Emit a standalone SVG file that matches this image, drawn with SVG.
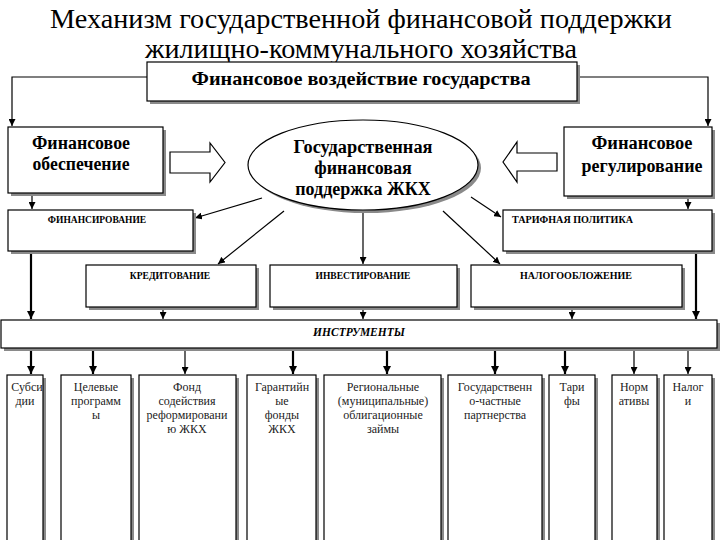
<svg xmlns="http://www.w3.org/2000/svg" width="720" height="540" viewBox="0 0 720 540">
<defs>
<marker id="ah" viewBox="0 0 10 10" refX="10" refY="5" markerWidth="7" markerHeight="7" markerUnits="userSpaceOnUse" orient="auto"><path d="M0,0 L10,5 L0,10 z" fill="#000"/></marker>
<marker id="ahb" viewBox="0 0 10 10" refX="10" refY="5" markerWidth="8" markerHeight="8" markerUnits="userSpaceOnUse" orient="auto"><path d="M0,0 L10,5 L0,10 z" fill="#000"/></marker>
</defs>
<style>
.box{fill:#fff;stroke:#000;stroke-width:1.2}
.sh{fill:#8a8a8a}
.t{font-family:"Liberation Serif","Times New Roman",serif;fill:#000}
.b{font-weight:bold}
.big{font-size:18px}
.sm{font-size:9.5px;font-weight:bold}
.bt{font-size:12px;fill:#222}
.ln{stroke:#000;stroke-width:1.2;fill:none}
.th{stroke:#000;stroke-width:2.2;fill:none}
</style>
<rect width="720" height="540" fill="#fff"/>
<g id="title">
<text class="t" x="361" y="28" font-size="26.5" text-anchor="middle" textLength="622" lengthAdjust="spacingAndGlyphs">Механизм государственной финансовой поддержки</text>
<text class="t" x="361" y="58" font-size="26.5" text-anchor="middle" textLength="432" lengthAdjust="spacingAndGlyphs">жилищно-коммунального хозяйства</text>
</g>
<g id="connectors">
<path class="ln" d="M147,77 H12 V126" marker-end="url(#ah)"/>
<path class="ln" d="M577,77 H708 V126" marker-end="url(#ah)"/>
<path class="ln" d="M32,193 V209" marker-end="url(#ah)"/>
<path class="ln" d="M688,196 V209" marker-end="url(#ah)"/>
<path class="ln" d="M262,198 L195,218" marker-end="url(#ah)"/>
<path class="ln" d="M284,211 L218,264" marker-end="url(#ah)"/>
<path class="ln" d="M363,210 V264" marker-end="url(#ah)"/>
<path class="ln" d="M471,197 L501,217" marker-end="url(#ah)"/>
<path class="ln" d="M443,211 L500,264" marker-end="url(#ah)"/>
<path class="th" d="M31,252 V319" marker-end="url(#ahb)"/>
<path class="ln" d="M163,307 V319" marker-end="url(#ah)"/>
<path class="ln" d="M363,307 V319" marker-end="url(#ah)"/>
<path class="ln" d="M572,307 V319" marker-end="url(#ah)"/>
<path class="th" d="M696,252 V319" marker-end="url(#ahb)"/>
<path class="th" d="M31,348 V374" marker-end="url(#ahb)"/>
<path class="th" d="M93,348 V374" marker-end="url(#ahb)"/>
<path class="ln" d="M185,348 V374" marker-end="url(#ah)"/>
<path class="th" d="M293,348 V374" marker-end="url(#ahb)"/>
<path class="th" d="M387,348 V374" marker-end="url(#ahb)"/>
<path class="th" d="M495,348 V374" marker-end="url(#ahb)"/>
<path class="th" d="M565,348 V374" marker-end="url(#ahb)"/>
<path class="ln" d="M634,348 V374" marker-end="url(#ah)"/>
<path class="ln" d="M688,348 V374" marker-end="url(#ah)"/>
<path class="box" d="M170,152 H210 V143 L225,162.5 L210,182 V173 H170 Z"/>
<path class="box" d="M557,153 H517 V142 L503,162 L517,182 V171 H557 Z"/>
</g>
<g id="n-top">
<rect class="sh" x="150" y="65" width="430" height="39"/>
<rect class="box" x="147" y="62" width="430" height="39"/>
<text class="t b" font-size="19" x="361" y="85" text-anchor="middle" textLength="339" lengthAdjust="spacingAndGlyphs">Финансовое воздействие государства</text>
</g>
<g id="n-obesp">
<rect class="sh" x="11" y="130" width="155" height="66"/>
<rect class="box" x="8" y="127" width="155" height="66"/>
<text class="t b big" x="81" y="149" text-anchor="middle" textLength="98" lengthAdjust="spacingAndGlyphs">Финансовое</text>
<text class="t b big" x="81" y="170" text-anchor="middle" textLength="97" lengthAdjust="spacingAndGlyphs">обеспечение</text>
</g>
<g id="n-regul">
<rect class="sh" x="567" y="130" width="148" height="69"/>
<rect class="box" x="564" y="127" width="148" height="69"/>
<text class="t b big" x="642" y="149" text-anchor="middle" textLength="101" lengthAdjust="spacingAndGlyphs">Финансовое</text>
<text class="t b big" x="642" y="172" text-anchor="middle" textLength="121" lengthAdjust="spacingAndGlyphs">регулирование</text>
</g>
<g id="n-ellipse">
<ellipse class="sh" cx="366" cy="168" rx="115" ry="45"/>
<ellipse class="box" cx="363" cy="165" rx="115" ry="45"/>
<text class="t b big" x="363" y="153" text-anchor="middle" textLength="139" lengthAdjust="spacingAndGlyphs">Государственная</text>
<text class="t b big" x="363" y="174" text-anchor="middle">финансовая</text>
<text class="t b big" x="363" y="195" text-anchor="middle">поддержка ЖКХ</text>
</g>
<g id="n-fin">
<rect class="sh" x="11" y="213" width="185" height="41"/>
<rect class="box" x="8" y="210" width="185" height="41"/>
<text class="t sm" x="97" y="223" text-anchor="middle">ФИНАНСИРОВАНИЕ</text>
</g>
<g id="n-tarif">
<rect class="sh" x="506" y="213" width="209" height="41"/>
<rect class="box" x="503" y="210" width="209" height="41"/>
<text class="t sm" x="512" y="223" textLength="121" lengthAdjust="spacingAndGlyphs">ТАРИФНАЯ ПОЛИТИКА</text>
</g>
<g id="n-kred">
<rect class="sh" x="89" y="268" width="170" height="42"/>
<rect class="box" x="86" y="265" width="170" height="42"/>
<text class="t sm" x="170" y="279" text-anchor="middle">КРЕДИТОВАНИЕ</text>
</g>
<g id="n-invest">
<rect class="sh" x="273" y="268" width="187" height="42"/>
<rect class="box" x="270" y="265" width="187" height="42"/>
<text class="t sm" x="363" y="279" text-anchor="middle">ИНВЕСТИРОВАНИЕ</text>
</g>
<g id="n-nalog">
<rect class="sh" x="474" y="268" width="211" height="42"/>
<rect class="box" x="471" y="265" width="211" height="42"/>
<text class="t sm" x="576" y="279" text-anchor="middle" textLength="112" lengthAdjust="spacingAndGlyphs">НАЛОГООБЛОЖЕНИЕ</text>
</g>
<g id="n-instr">
<rect class="sh" x="4" y="323" width="716" height="28"/>
<rect class="box" x="1" y="320" width="716" height="28"/>
<text class="t" x="359" y="336" font-size="11.5" font-weight="bold" font-style="italic" text-anchor="middle">ИНСТРУМЕНТЫ</text>
</g>
<g id="n-b1">
<rect class="sh" x="10" y="378" width="36" height="170"/>
<rect class="box" x="7" y="375" width="36" height="170"/>
<text class="t bt" x="27" y="391" text-anchor="middle">Субси</text>
<text class="t bt" x="25" y="405" text-anchor="middle">дии</text>
</g>
<g id="n-b2">
<rect class="sh" x="64" y="378" width="70" height="170"/>
<rect class="box" x="61" y="375" width="70" height="170"/>
<text class="t bt" x="96" y="391" text-anchor="middle">Целевые</text>
<text class="t bt" x="96" y="405" text-anchor="middle">программ</text>
<text class="t bt" x="96" y="419" text-anchor="middle">ы</text>
</g>
<g id="n-b3">
<rect class="sh" x="142" y="378" width="97" height="170"/>
<rect class="box" x="139" y="375" width="97" height="170"/>
<text class="t bt" x="187" y="391" text-anchor="middle">Фонд</text>
<text class="t bt" x="187" y="405" text-anchor="middle">содействия</text>
<text class="t bt" x="187" y="419" text-anchor="middle">реформировани</text>
<text class="t bt" x="187" y="433" text-anchor="middle">ю ЖКХ</text>
</g>
<g id="n-b4">
<rect class="sh" x="250" y="378" width="69" height="170"/>
<rect class="box" x="247" y="375" width="69" height="170"/>
<text class="t bt" x="282" y="391" text-anchor="middle">Гарантийн</text>
<text class="t bt" x="282" y="405" text-anchor="middle">ые</text>
<text class="t bt" x="282" y="419" text-anchor="middle">фонды</text>
<text class="t bt" x="282" y="433" text-anchor="middle">ЖКХ</text>
</g>
<g id="n-b5">
<rect class="sh" x="327" y="378" width="117" height="170"/>
<rect class="box" x="324" y="375" width="117" height="170"/>
<text class="t bt" x="383" y="391" text-anchor="middle">Региональные</text>
<text class="t bt" x="383" y="405" text-anchor="middle">(муниципальные)</text>
<text class="t bt" x="383" y="419" text-anchor="middle">облигационные</text>
<text class="t bt" x="383" y="433" text-anchor="middle">займы</text>
</g>
<g id="n-b6">
<rect class="sh" x="451" y="378" width="94" height="170"/>
<rect class="box" x="448" y="375" width="94" height="170"/>
<text class="t bt" x="495" y="391" text-anchor="middle">Государственн</text>
<text class="t bt" x="495" y="405" text-anchor="middle">о-частные</text>
<text class="t bt" x="495" y="419" text-anchor="middle">партнерства</text>
</g>
<g id="n-b7">
<rect class="sh" x="552" y="378" width="46" height="170"/>
<rect class="box" x="549" y="375" width="46" height="170"/>
<text class="t bt" x="572" y="391" text-anchor="middle">Тари</text>
<text class="t bt" x="572" y="405" text-anchor="middle">фы</text>
</g>
<g id="n-b8">
<rect class="sh" x="615" y="378" width="45" height="170"/>
<rect class="box" x="612" y="375" width="45" height="170"/>
<text class="t bt" x="634" y="391" text-anchor="middle">Норм</text>
<text class="t bt" x="634" y="405" text-anchor="middle">ативы</text>
</g>
<g id="n-b9">
<rect class="sh" x="667" y="378" width="48" height="170"/>
<rect class="box" x="664" y="375" width="48" height="170"/>
<text class="t bt" x="688" y="391" text-anchor="middle">Налог</text>
<text class="t bt" x="688" y="405" text-anchor="middle">и</text>
</g>
</svg>
